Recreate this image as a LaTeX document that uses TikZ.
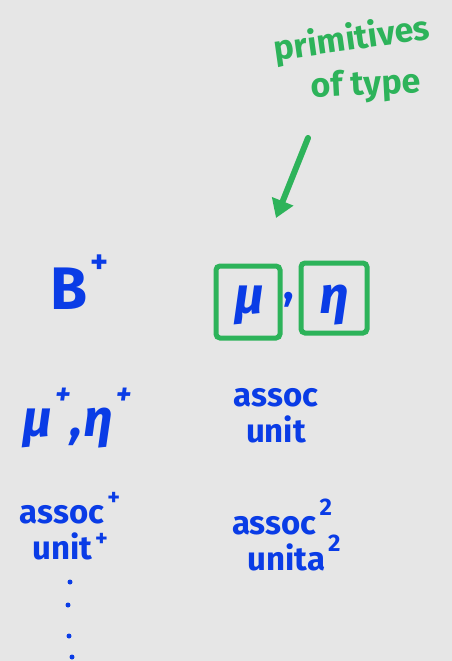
\documentclass[tikz,border=0pt]{standalone}
\usepackage{fontspec}
\setmainfont{Fira Sans}
\usetikzlibrary{arrows.meta}
\definecolor{ink}{HTML}{0A3CE6}
\definecolor{pen}{HTML}{2DB35A}
\definecolor{paper}{HTML}{E6E6E6}
% raised index set in a smaller size
\newcommand{\upidx}[2][0.55em]{\hspace{3pt}\raisebox{#1}{\fontsize{24}{24}\selectfont #2}}
\tikzset{
  blue text/.style={text=ink, font=\fontsize{33}{36}\selectfont\bfseries, inner sep=0pt, align=center},
  green text/.style={text=pen, font=\fontsize{34}{34}\selectfont\bfseries, inner sep=0pt, align=center},
  big sym/.style={text=ink, font=\fontsize{60}{60}\selectfont\bfseries, inner sep=0pt},
  greek/.style={text=ink, font=\fontsize{52}{52}\selectfont\bfseries\itshape, inner sep=0pt},
  prim box/.style={draw=pen, line width=5pt, rounded corners=4pt},
  dotmark/.style={circle, fill=ink, inner sep=0pt, minimum size=5pt},
}
\begin{document}
\begin{tikzpicture}[x=1pt,y=-1pt]
  \fill[paper] (0,0) rectangle (452,661);
  \useasboundingbox (0,0) rectangle (452,661);

  % label and arrow pointing at the primitives
  \node[green text, rotate=8] (prim) at (352,40) {primitives};
  \node[green text, rotate=3] (oftype) at (366,86) {of type};
  \coordinate (arrowtail) at (308,138);
  \coordinate (arrowhead) at (276,218);
  \draw[pen, line width=6pt, line cap=round, -{Triangle[length=18pt,width=22pt]}] (arrowtail) -- (arrowhead);

  % first row
  \node[big sym] (B) at (80,282) {B\upidx[0.6em]{\fontsize{34}{34}\selectfont +}};
  \draw[prim box] (216,266) rectangle (280,338);
  \draw[prim box] (301,263) rectangle (367,333);
  \node[greek] (mu) at (249,305) {μ};
  \node[greek] (eta) at (334,305) {η};
  \node[big sym, font=\fontsize{44}{44}\selectfont\bfseries] (comma) at (289,300) {,};

  % second row
  \node[greek] (mueta) at (77,418) {μ\upidx[0.6em]{\fontsize{30}{30}\selectfont +},η\upidx[0.6em]{\fontsize{30}{30}\selectfont +}};
  \node[blue text] (assocunit) at (276,416) {assoc\\unit};

  % third row
  \node[blue text] (assocplus) at (70,526) {assoc\upidx{+}\\unit\upidx[0.4em]{+}};
  \node[blue text] (assocsq) at (282,535) {assoc\upidx{2}\\\hspace*{24pt}unita\upidx{2}};

  % trailing dots
  \node[dotmark] (d1) at (70,582) {};
  \node[dotmark] (d2) at (68,605) {};
  \node[dotmark] (d3) at (69,636) {};
  \node[dotmark] (d4) at (72,657) {};
\end{tikzpicture}
\end{document}
